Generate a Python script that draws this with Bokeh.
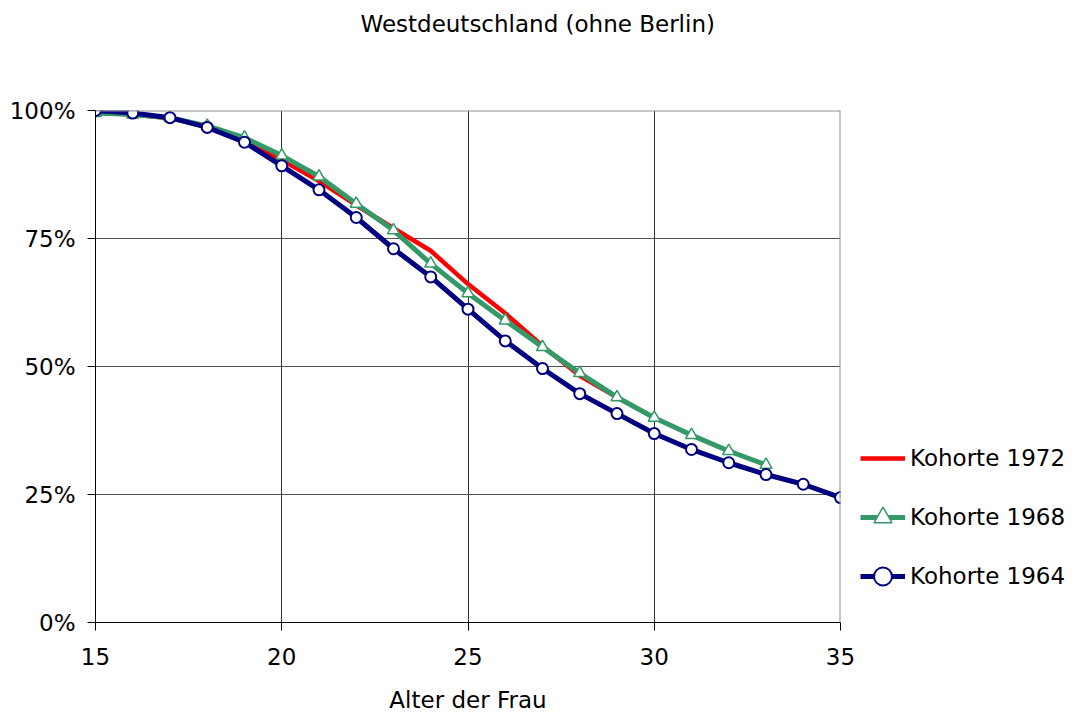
from bokeh.plotting import figure
from bokeh.models import (Range1d, FixedTicker, PrintfTickFormatter, Legend, LegendItem,
                          Span, Title)
from bokeh.embed import file_html
from bokeh.resources import INLINE

# ---- data (share of women still childless, in %) ----
ages_1964 = list(range(15, 36))
k1964 = [100.0, 99.5, 98.6, 96.7, 93.8, 89.2, 84.5, 79.1, 73.0, 67.5, 61.2,
         55.0, 49.6, 44.7, 40.8, 36.9, 33.8, 31.2, 28.9, 27.0, 24.4]
ages_1968 = list(range(15, 34))
k1968 = [99.5, 99.2, 98.6, 97.0, 94.7, 91.2, 87.1, 81.8, 76.6, 70.1, 64.3,
         59.0, 53.8, 48.7, 44.0, 40.0, 36.6, 33.5, 30.8]
ages_1972 = list(range(15, 30))
k1972 = [99.6, 99.2, 98.5, 96.8, 94.0, 90.3, 86.2, 81.5, 77.0, 72.6, 66.1,
         60.4, 54.0, 48.2, 44.0]

x_ticks = [15, 20, 25, 30, 35]
y_ticks = [0, 25, 50, 75, 100]
title_text = "Westdeutschland (ohne Berlin)"
x_label = "Alter der Frau"
labels = ["Kohorte 1972", "Kohorte 1968", "Kohorte 1964"]

FONT = "DejaVu Sans"
FS = "23px"

p = figure(frame_width=745, frame_height=512, output_backend="svg", toolbar_location=None,
           x_range=Range1d(15, 35), y_range=Range1d(0, 100),
           min_border_left=95, min_border_right=244, min_border_top=110,
           min_border_bottom=98)
p.outline_line_color = None
p.background_fill_color = "white"
p.border_fill_color = "white"

# title: a thin spacer next to the frame, then the real title above it
spacer = Title(text=" ", text_font_size="1px", standoff=71)
main_title = Title(text=title_text, align="left", offset=265, standoff=0,
                   vertical_align="bottom", text_font=FONT, text_font_size=FS,
                   text_font_style="normal", text_color="black")
p.add_layout(spacer, "above")
p.add_layout(main_title, "above")

# axes
for ax in (p.xaxis[0], p.yaxis[0]):
    ax.axis_line_color = "black"
    ax.axis_line_width = 1
    ax.major_tick_line_color = "black"
    ax.major_tick_out = 8
    ax.major_tick_in = 0
    ax.minor_tick_line_color = None
    ax.major_label_text_font = FONT
    ax.major_label_text_font_size = FS
    ax.major_label_text_color = "black"
p.xaxis.ticker = FixedTicker(ticks=x_ticks)
p.yaxis.ticker = FixedTicker(ticks=y_ticks)
p.yaxis.formatter = PrintfTickFormatter(format="%d%%")
p.xaxis.major_label_standoff = 17
p.yaxis.major_label_standoff = 12
p.xaxis.axis_label = x_label
p.xaxis.axis_label_standoff = 19
p.xaxis.axis_label_text_font = FONT
p.xaxis.axis_label_text_font_size = FS
p.xaxis.axis_label_text_font_style = "normal"
p.xaxis.axis_label_text_color = "black"

# grid
p.xgrid.ticker = FixedTicker(ticks=[20, 25, 30])
p.ygrid.ticker = FixedTicker(ticks=[25, 50, 75])
p.xgrid.grid_line_color = "#303030"
p.ygrid.grid_line_color = "#505050"

# top / right border
p.add_layout(Span(location=100, dimension="width", line_color="#909090", line_width=2))
p.add_layout(Span(location=35, dimension="height", line_color="#909090", line_width=2))

# series
r_red = p.line(ages_1972, k1972, line_color="#FF0000", line_width=4.5)
r_green = p.line(ages_1968, k1968, line_color="#339966", line_width=5)
r_green_m = p.scatter(ages_1968, k1968, marker="triangle", size=12,
                      fill_color="white", line_color="#339966", line_width=1.5)
r_blue = p.line(ages_1964, k1964, line_color="#000080", line_width=5)
r_blue_m = p.scatter(ages_1964, k1964, marker="circle", size=11,
                     fill_color="white", line_color="#000080", line_width=2)

legend = Legend(items=[
    LegendItem(label=labels[0], renderers=[r_red]),
    LegendItem(label=labels[1], renderers=[r_green, r_green_m]),
    LegendItem(label=labels[2], renderers=[r_blue, r_blue_m]),
], location="bottom_left", padding=0, margin=20, spacing=7,
    glyph_width=45, glyph_height=52, label_height=52, label_standoff=5,
    label_text_font=FONT, label_text_font_size=FS, label_text_color="black",
    border_line_color=None, background_fill_alpha=0)
p.add_layout(legend, "right")

open("out.html", "w").write(file_html(p, INLINE))
